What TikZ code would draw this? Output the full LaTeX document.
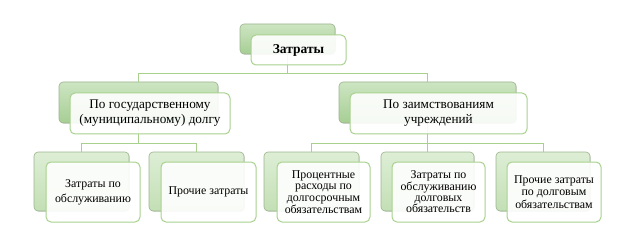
\documentclass[tikz,border=0pt]{standalone}
\usepackage{fontspec}
\setmainfont{Liberation Serif}
\usetikzlibrary{shadows}
\definecolor{gline}{HTML}{A9D18E}
\definecolor{gtop}{HTML}{CDE5C2}
\definecolor{gbot}{HTML}{A6CE94}
\definecolor{ltop}{HTML}{DDEED5}
\definecolor{lbot}{HTML}{C3DFB5}
\definecolor{bkborder}{HTML}{9BB48D}
\begin{document}
\begin{tikzpicture}[x=1pt,y=-1pt,
 back/.style={draw=bkborder, line width=0.6pt, rounded corners=4pt, top color=gtop, bottom color=gbot,
   anchor=north west, inner sep=0pt, outer sep=0pt,
   drop shadow={shadow xshift=0.8pt, shadow yshift=-0.8pt, opacity=0.25}},
 backlight/.style={back, top color=ltop, bottom color=lbot},
 front/.style={draw=gline, line width=1pt, fill=white, fill opacity=0.9, text opacity=1,
   rounded corners=5pt, anchor=north west, inner sep=0pt, outer sep=0pt, align=center, text=black},
 conn/.style={draw=gline, line width=0.9pt},
 ftop/.style={font=\fontsize{13.5}{15}\selectfont\bfseries},
 fmid/.style={font=\fontsize{13.2}{15}\selectfont},
 flow/.style={font=\fontsize{11.9}{#1}\selectfont}]
\useasboundingbox (0,0) rectangle (630,246);

% back boxes
\node[back, minimum width=95pt, minimum height=30pt] (tB) at (240,24) {};
\node[back, minimum width=159pt, minimum height=41pt] (aB) at (59,82) {};
\node[back, minimum width=177pt, minimum height=41pt] (bB) at (339,82) {};
\node[backlight, minimum width=95pt, minimum height=59pt] (c1B) at (34,152) {};
\node[backlight, minimum width=95pt, minimum height=59pt] (c2B) at (149,152) {};
\node[backlight, minimum width=95pt, minimum height=59pt] (c3B) at (264,152) {};
\node[backlight, minimum width=93pt, minimum height=59pt] (c4B) at (381,152) {};
\node[backlight, minimum width=94pt, minimum height=59pt] (c5B) at (496,152) {};

% connectors
\coordinate (h1) at (287.5,73);
\coordinate (h2) at (138.5,143);
\coordinate (h3) at (427.5,143);
\draw[conn] (tB.south) -- (h1) -| (aB.north);
\draw[conn] (h1) -| (bB.north);
\draw[conn] (aB.south) -- (h2) -| (c1B.north);
\draw[conn] (h2) -| (c2B.north);
\draw[conn] (bB.south) -- (h3) -| (c3B.north);
\draw[conn] (h3) -| (c5B.north);
\draw[conn] (h3) -- (c4B.north);

% front boxes
\node[front, ftop, minimum width=95pt, minimum height=30pt] (t) at (251,35) {Затраты};
\node[front, fmid, minimum width=160pt, minimum height=41pt] (a) at (70,93) {По государственному\\(муниципальному) долгу};
\node[front, fmid, minimum width=177pt, minimum height=41pt] (b) at (350,93) {По заимствованиям\\учреждений};
\node[front, flow=15, minimum width=94pt, minimum height=60pt] (c1) at (46,162) {Затраты по\\обслуживанию};
\node[front, flow=15, minimum width=95pt, minimum height=60pt] (c2) at (161,162) {Прочие затраты};
\node[front, flow=11.7, minimum width=93pt, minimum height=60pt] (c3) at (277,162) {Процентные\\расходы по\\долгосрочным\\обязательствам};
\node[front, flow=11.4, minimum width=93pt, minimum height=60pt] (c4) at (392,162) {Затраты по\\обслуживанию\\долговых\\обязательств};
\node[front, flow=12.5, minimum width=94pt, minimum height=60pt] (c5) at (507,162) {Прочие затраты\\по долговым\\обязательствам};
\end{tikzpicture}
\end{document}
